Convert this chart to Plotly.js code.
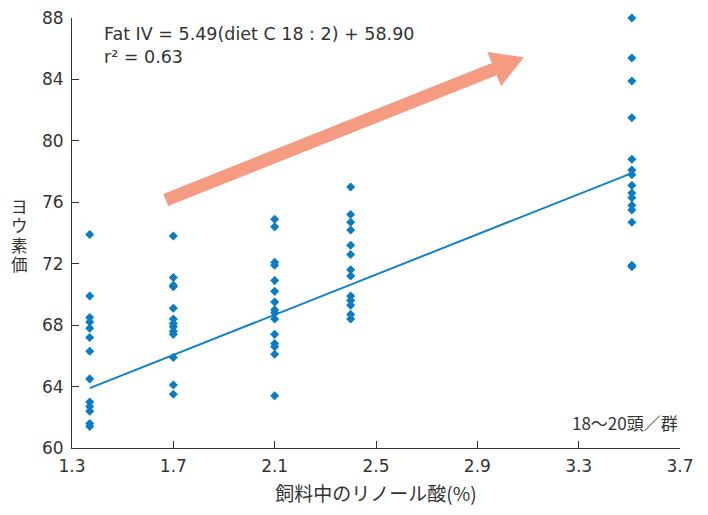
<!DOCTYPE html>
<html><head><meta charset="utf-8">
<script src="https://cdn.plot.ly/plotly-3.0.1.min.js"></script>
<style>body{margin:0;background:#fff}#chart{width:708px;height:515px}</style>
</head><body><div id="chart"></div>
<script>
// Linoleic acid level per group (%)
const groupX = [1.37, 1.70, 2.10, 2.40, 3.51];
// Iodine values per group
const group1 = [73.9, 69.9, 68.5, 68.2, 67.8, 67.2, 66.3, 64.5, 63.0, 62.7, 62.4, 61.6, 61.4];
const group2 = [73.8, 71.1, 70.6, 70.5, 69.1, 68.4, 68.1, 67.9, 67.6, 67.4, 65.9, 64.1, 63.5];
const group3 = [74.9, 74.4, 72.1, 71.9, 70.9, 70.2, 69.5, 69.0, 68.8, 68.4, 67.4, 66.8, 66.6, 66.1, 63.4];
const group4 = [77.0, 75.2, 74.7, 74.2, 73.2, 72.6, 71.6, 71.2, 69.9, 69.6, 69.3, 68.7, 68.4];
const group5 = [88.0, 85.4, 83.9, 81.5, 78.8, 78.1, 77.8, 77.1, 76.6, 76.3, 75.8, 75.5, 74.7, 71.9, 71.8];
// Regression line as drawn
const lineX = [1.37, 3.51];
const lineY = [63.9, 77.9];
const xTicks = [1.3, 1.7, 2.1, 2.5, 2.9, 3.3, 3.7];
const yTicks = [60, 64, 68, 72, 76, 80, 84, 88];
const yTitleChars = ['ヨ', 'ウ', '素', '価'];

const groups = [group1, group2, group3, group4, group5];
const px = [], py = [];
groups.forEach((g, i) => g.forEach(v => { px.push(groupX[i]); py.push(v); }));

const W = 708, H = 515;
const M = {l: 72, r: 28, t: 18, b: 67};
const xr = [1.3, 3.7], yr = [60, 88];
const toDX = p => xr[0] + (p - M.l) / (W - M.l - M.r) * (xr[1] - xr[0]);
const toDY = p => yr[0] + (H - M.b - p) / (H - M.t - M.b) * (yr[1] - yr[0]);

// arrow geometry (pixel space decoration)
const tail = [165.8, 200], tip = [524, 57.3];
const dx = tip[0] - tail[0], dy = tip[1] - tail[1], L = Math.hypot(dx, dy);
const u = [dx / L, dy / L], n = [-u[1], u[0]];
const hw = 6.5, headL = 32, headW = 18.5;
const base = [tip[0] - u[0] * headL, tip[1] - u[1] * headL];
const pts = [
  [tail[0] + n[0] * hw, tail[1] + n[1] * hw],
  [base[0] + n[0] * hw, base[1] + n[1] * hw],
  [base[0] + n[0] * headW, base[1] + n[1] * headW],
  tip,
  [base[0] - n[0] * headW, base[1] - n[1] * headW],
  [base[0] - n[0] * hw, base[1] - n[1] * hw],
  [tail[0] - n[0] * hw, tail[1] - n[1] * hw]
];
const path = pts.map((p, i) => (i ? 'L' : 'M') + toDX(p[0]).toFixed(4) + ',' + toDY(p[1]).toFixed(4)).join(' ') + ' Z';

const LATIN = '"DejaVu Sans", sans-serif';
const CJK = '"Noto Sans CJK JP", sans-serif';
const blue = '#0A7CC4';
const ink = '#333';

const data = [
  {x: lineX, y: lineY, mode: 'lines', line: {color: '#1480C8', width: 2}, hoverinfo: 'skip'},
  {x: px, y: py, mode: 'markers', cliponaxis: false, marker: {symbol: 'diamond', size: 7, color: blue}}
];

const yTitleAnns = yTitleChars.map((c, i) => ({
  xref: 'paper', yref: 'paper', x: -0.087, y: 0.5628 - i * 0.0450,
  xanchor: 'center', yanchor: 'middle', text: c, showarrow: false,
  height: 18, borderpad: 0, valign: 'middle',
  font: {size: 16.5, color: ink, family: CJK}
}));

const layout = {
  width: W, height: H, margin: M, showlegend: false,
  paper_bgcolor: '#fff', plot_bgcolor: '#fff',
  font: {family: CJK, color: ink, size: 16},
  xaxis: {range: xr, tickvals: xTicks, ticktext: xTicks.map(v => v.toFixed(1)),
    showgrid: false, zeroline: false, showline: true, linecolor: ink, linewidth: 1,
    ticks: 'inside', ticklen: 7, tickcolor: ink, ticklabelstandoff: 3,
    tickfont: {size: 17, color: ink, family: LATIN},
    title: {text: '飼料中のリノール酸(%)', font: {size: 19, color: ink, family: CJK}, standoff: 12}},
  yaxis: {range: yr, tickvals: yTicks, showgrid: false, zeroline: false,
    showline: true, linecolor: ink, linewidth: 1, ticklabelstandoff: 4,
    ticks: 'inside', ticklen: 7, tickcolor: ink, tickfont: {size: 17, color: ink, family: LATIN}},
  shapes: [{type: 'path', path: path, xref: 'x', yref: 'y', fillcolor: '#F59B82', line: {width: 0}, layer: 'above'}],
  annotations: yTitleAnns.concat([
    {xref: 'paper', yref: 'paper', x: 0.05, y: 0.99, xanchor: 'left', yanchor: 'top', align: 'left',
     text: 'Fat IV = 5.49(diet C 18 : 2) + 58.90<br>r² = 0.63', showarrow: false,
     font: {size: 17.5, color: ink, family: LATIN}},
    {xref: 'paper', yref: 'paper', x: 1.0, y: 0.025, xanchor: 'right', yanchor: 'bottom',
     text: '18〜20頭／群', showarrow: false,
     font: {size: 17, color: ink, family: CJK}}
  ])
};
Plotly.newPlot('chart', data, layout, {displayModeBar: false, staticPlot: true});
</script></body></html>
